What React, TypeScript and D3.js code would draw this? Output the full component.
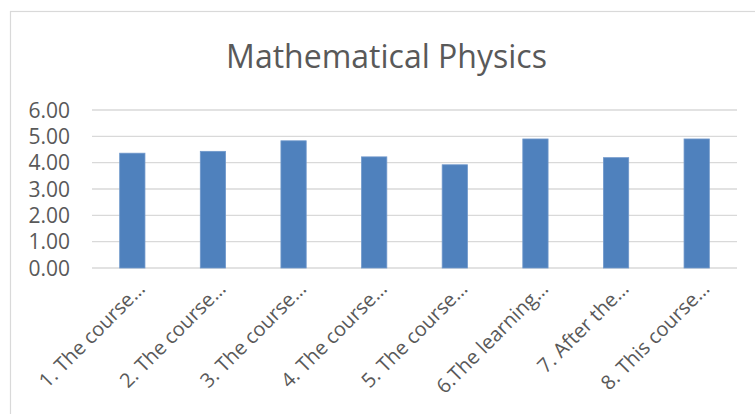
import React, { useEffect, useRef } from "react";
import * as d3 from "d3";

const categories = [
  "1. The course…",
  "2. The course…",
  "3. The course…",
  "4. The course…",
  "5. The course…",
  "6.The learning…",
  "7. After the…",
  "8. This course…",
];
const values = [4.36, 4.43, 4.83, 4.22, 3.92, 4.9, 4.19, 4.9];
const yTicks = [0, 1, 2, 3, 4, 5, 6];
const title = "Mathematical Physics";

export default function App() {
  const svgRef = useRef<SVGSVGElement | null>(null);

  useEffect(() => {
    if (!svgRef.current) return;

    const width = 755;
    const height = 414;
    const margin = { top: 110, right: 18, bottom: 146, left: 92 };
    const font = "'Open Sans', 'Noto Sans', sans-serif";
    const textColor = "#595959";

    const svg = d3.select(svgRef.current);
    svg.selectAll("*").remove();
    svg.attr("viewBox", `0 0 ${width} ${height}`);

    svg.append("rect").attr("width", width).attr("height", height).attr("fill", "#fff");

    // chart border (cropped at right and bottom)
    svg
      .append("rect")
      .attr("x", 10.5)
      .attr("y", 11.5)
      .attr("width", width + 20)
      .attr("height", height + 20)
      .attr("fill", "none")
      .attr("stroke", "#d9d9d9")
      .attr("stroke-width", 1.2);

    const x = d3
      .scaleBand()
      .domain(categories)
      .range([margin.left, width - margin.right])
      .paddingInner(0.6865)
      .paddingOuter(0.6865 / 2);

    const y = d3
      .scaleLinear()
      .domain([0, 6])
      .range([height - margin.bottom, margin.top]);

    svg
      .append("text")
      .attr("x", 386.5)
      .attr("y", 67.5)
      .attr("text-anchor", "middle")
      .attr("font-family", font)
      .attr("font-size", 32)
      .attr("fill", textColor)
      .text(title);

    const grid = svg.append("g");
    grid
      .selectAll("line")
      .data(yTicks)
      .join("line")
      .attr("x1", margin.left)
      .attr("x2", width - margin.right)
      .attr("y1", (d) => y(d))
      .attr("y2", (d) => y(d))
      .attr("stroke", "#d9d9d9")
      .attr("stroke-width", 1.4);

    svg
      .append("g")
      .selectAll("text")
      .data(yTicks)
      .join("text")
      .attr("x", 70)
      .attr("y", (d) => y(d) + 7.5)
      .attr("text-anchor", "end")
      .attr("font-family", font)
      .attr("font-size", 21)
      .attr("fill", textColor)
      .text((d) => d3.format(".2f")(d));

    svg
      .append("g")
      .selectAll("rect")
      .data(values)
      .join("rect")
      .attr("x", (d, i) => x(categories[i]) as number)
      .attr("y", (d) => y(d))
      .attr("width", x.bandwidth())
      .attr("height", (d) => y(0) - y(d))
      .attr("fill", "#4f81bd")
      .attr("stroke", "#7098cb")
      .attr("stroke-width", 0.8);

    svg
      .append("g")
      .selectAll("text")
      .data(categories)
      .join("text")
      .attr(
        "transform",
        (d) => `translate(${(x(d) as number) + x.bandwidth() / 2 + 14},${y(0) + 22}) rotate(-45)`
      )
      .attr("text-anchor", "end")
      .attr("font-family", font)
      .attr("font-size", 20)
      .attr("fill", textColor)
      .text((d) => d);
  }, []);

  return (
    <svg
      ref={svgRef}
      width={755}
      height={414}
      style={{ position: "absolute", left: 0, top: 0, display: "block" }}
    />
  );
}
